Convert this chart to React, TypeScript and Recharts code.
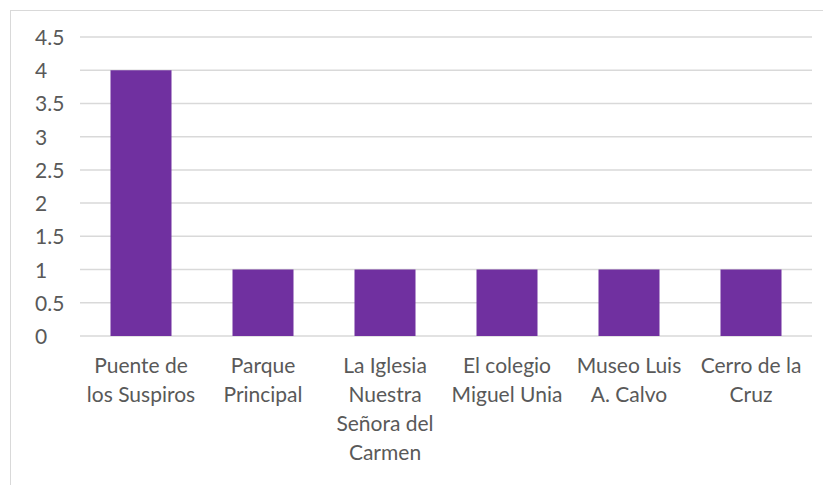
import React from 'react'
import { BarChart, Bar, XAxis, YAxis, CartesianGrid } from 'recharts'

document.body.style.margin = '0'

const categories = [
  'Puente de los Suspiros',
  'Parque Principal',
  'La Iglesia Nuestra Señora del Carmen',
  'El colegio Miguel Unia',
  'Museo Luis A. Calvo',
  'Cerro de la Cruz'
]
const values = [4, 1, 1, 1, 1, 1]
const tickLines = [
  ['Puente de', 'los Suspiros'],
  ['Parque', 'Principal'],
  ['La Iglesia', 'Nuestra', 'Señora del', 'Carmen'],
  ['El colegio', 'Miguel Unia'],
  ['Museo Luis', 'A. Calvo'],
  ['Cerro de la', 'Cruz']
]
const yTicks = [0, 0.5, 1, 1.5, 2, 2.5, 3, 3.5, 4, 4.5]

const data = categories.map((name, i) => ({ name, value: values[i] }))

const FONT = 'Lato, "Open Sans", sans-serif'
const TEXT = '#595959'

const XTick = ({ x, y, index }: any) => {
  const lines = tickLines[index] || []
  return (
    <text x={x} y={y + 29} textAnchor="middle" fill={TEXT} fontSize={21} fontFamily={FONT}>
      {lines.map((l, i) => (
        <tspan key={i} x={x} dy={i === 0 ? 0 : 29}>{l}</tspan>
      ))}
    </text>
  )
}

const YTick = ({ y, payload }: any) => (
  <text x={35} y={y + 8} textAnchor="start" fill={TEXT} fontSize={21} fontFamily={FONT}>
    {payload.value}
  </text>
)

const App = () => {
  return (
    <div style={{ position: 'relative', width: 823, height: 485, overflow: 'hidden', background: '#fff' }}>
      <div
        style={{
          position: 'absolute',
          left: 10,
          top: 10,
          width: 900,
          height: 600,
          border: '1px solid #d9d9d9'
        }}
      />
      <div style={{ position: 'absolute', left: 0, top: 0 }}>
        <BarChart
          width={823}
          height={485}
          data={data}
          margin={{ top: 37, right: 11, left: 8, bottom: 0 }}
          barCategoryGap="25%"
        >
          <CartesianGrid vertical={false} stroke="#d9d9d9" strokeWidth={1.5} />
          <XAxis
            dataKey="name"
            height={149}
            axisLine={false}
            tickLine={false}
            interval={0}
            tick={<XTick />}
          />
          <YAxis
            width={72}
            domain={[0, 4.5]}
            ticks={yTicks}
            axisLine={false}
            tickLine={false}
            tick={<YTick />}
          />
          <Bar dataKey="value" fill="#7030a0" isAnimationActive={false} />
        </BarChart>
      </div>
    </div>
  )
}

export default App
